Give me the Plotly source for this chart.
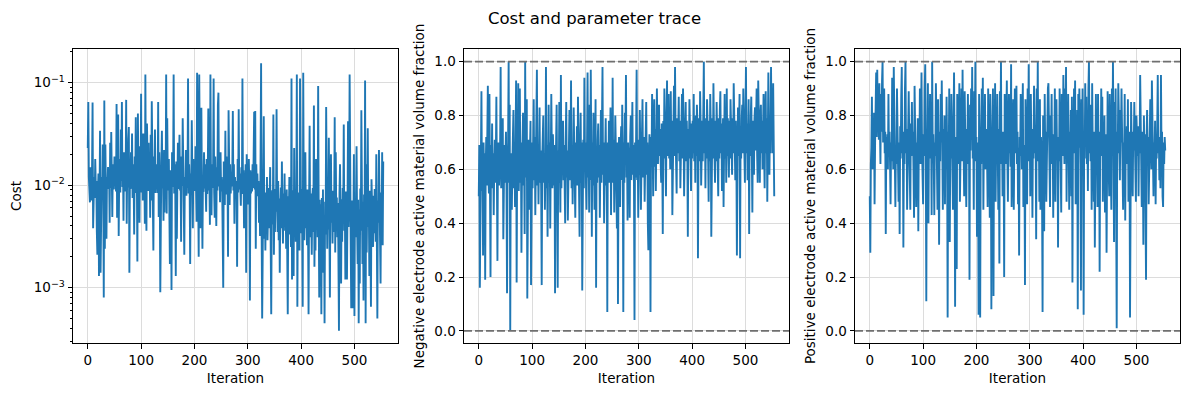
import plotly.graph_objects as go
from plotly.subplots import make_subplots

cost = [
0.023, 0.065, 0.012, 0.0093, 0.0068, 0.015, 0.0095, 0.0071, 0.014, 0.064,
0.0038, 0.0089, 0.012, 0.0075, 0.018, 0.0098, 0.011, 0.0035, 0.0021, 0.0087,
0.013, 0.0013, 0.0092, 0.034, 0.0014, 0.0098, 0.012, 0.0075, 0.025, 0.0096,
0.0008, 0.067, 0.0024, 0.025, 0.0081, 0.003, 0.012, 0.0098, 0.015, 0.0092,
0.014, 0.0043, 0.026, 0.0094, 0.033, 0.0085, 0.0049, 0.016, 0.011, 0.0091,
0.019, 0.0105, 0.014, 0.0087, 0.062, 0.0048, 0.011, 0.049, 0.0032, 0.013,
0.018, 0.0085, 0.035, 0.011, 0.065, 0.0096, 0.016, 0.0045, 0.021, 0.013,
0.0087, 0.012, 0.068, 0.0042, 0.015, 0.0095, 0.028, 0.037, 0.0014, 0.012,
0.0092, 0.021, 0.0093, 0.032, 0.0075, 0.016, 0.011, 0.0033, 0.019, 0.0091,
0.046, 0.0084, 0.013, 0.0018, 0.05, 0.0092, 0.017, 0.0043, 0.024, 0.0098,
0.078, 0.0085, 0.018, 0.0071, 0.032, 0.0094, 0.015, 0.0042, 0.12, 0.0089,
0.0036, 0.04, 0.012, 0.0088, 0.026, 0.0095, 0.015, 0.0048, 0.031, 0.0071,
0.066, 0.0092, 0.014, 0.0023, 0.019, 0.0091, 0.035, 0.0084, 0.016, 0.0097,
0.012, 0.0084, 0.065, 0.0049, 0.021, 0.0088, 0.0009, 0.0095, 0.017, 0.034,
0.0093, 0.014, 0.0045, 0.022, 0.0054, 0.015, 0.0081, 0.12, 0.0053, 0.045,
0.011, 0.0089, 0.018, 0.0085, 0.0017, 0.014, 0.0092, 0.00095, 0.021, 0.0096,
0.012, 0.12, 0.0083, 0.016, 0.0101, 0.0013, 0.017, 0.003, 0.0098, 0.026,
0.0092, 0.014, 0.031, 0.0089, 0.013, 0.0028, 0.019, 0.0098, 0.045, 0.0085,
0.015, 0.0021, 0.012, 0.0087, 0.022, 0.0079, 0.017, 0.0094, 0.11, 0.0083,
0.016, 0.0099, 0.0017, 0.013, 0.0085, 0.043, 0.0091, 0.0038, 0.018, 0.0092,
0.011, 0.0088, 0.024, 0.0095, 0.0044, 0.125, 0.0096, 0.017, 0.002, 0.12,
0.0093, 0.0038, 0.015, 0.057, 0.0091, 0.0024, 0.012, 0.0086, 0.021, 0.0093,
0.016, 0.0097, 0.0055, 0.018, 0.0082, 0.013, 0.056, 0.0089, 0.011, 0.0041,
0.12, 0.0098, 0.0051, 0.016, 0.0094, 0.014, 0.11, 0.0085, 0.0048, 0.019,
0.0093, 0.004, 0.015, 0.0089, 0.061, 0.08, 0.0097, 0.013, 0.0068, 0.021,
0.0087, 0.012, 0.0095, 0.0016, 0.001, 0.017, 0.0092, 0.0064, 0.034, 0.0081,
0.019, 0.0091, 0.013, 0.002, 0.054, 0.0095, 0.0064, 0.016, 0.0083, 0.012,
0.0097, 0.014, 0.053, 0.0089, 0.016, 0.0042, 0.012, 0.0093, 0.011, 0.0094,
0.0016, 0.018, 0.0085, 0.055, 0.0091, 0.013, 0.0096, 0.0063, 0.015, 0.0082,
0.11, 0.0099, 0.014, 0.0038, 0.011, 0.0088, 0.016, 0.0014, 0.02, 0.0096,
0.012, 0.0065, 0.018, 0.0091, 0.00075, 0.014, 0.0083, 0.011, 0.0087, 0.016,
0.0094, 0.019, 0.052, 0.0091, 0.053, 0.0024, 0.016, 0.0085, 0.013, 0.0078,
0.011, 0.0043, 0.0087, 0.0032, 0.019, 0.155, 0.0035, 0.0005, 0.0021, 0.0096,
0.047, 0.003, 0.0068, 0.0023, 0.0085, 0.0047, 0.012, 0.0029, 0.0061, 0.0094,
0.0038, 0.0072, 0.015, 0.0026, 0.00055, 0.0064, 0.0089, 0.0041, 0.049, 0.0021,
0.0078, 0.0035, 0.0092, 0.0055, 0.055, 0.0068, 0.0035, 0.011, 0.0029, 0.0074,
0.0014, 0.0062, 0.0095, 0.0038, 0.017, 0.0051, 0.0027, 0.0083, 0.0044, 0.013,
0.0036, 0.0069, 0.0024, 0.0091, 0.0031, 0.00055, 0.0078, 0.0048, 0.012, 0.0033,
0.0067, 0.0025, 0.11, 0.0012, 0.0058, 0.0089, 0.0013, 0.023, 0.0041, 0.0074,
0.0028, 0.0062, 0.12, 0.00065, 0.0085, 0.0039, 0.0071, 0.0023, 0.11, 0.0056,
0.0034, 0.0092, 0.0047, 0.00065, 0.125, 0.0081, 0.0029, 0.0065, 0.021, 0.0038,
0.0072, 0.0026, 0.0091, 0.0044, 0.00055, 0.0068, 0.038, 0.0031, 0.0083, 0.0052,
0.0021, 0.0076, 0.0094, 0.0035, 0.06, 0.0016, 0.0063, 0.0023, 0.018, 0.0048,
0.0087, 0.0031, 0.093, 0.0057, 0.0008, 0.0072, 0.0039, 0.0065, 0.00055, 0.0075,
0.0028, 0.0091, 0.0014, 0.0046, 0.00045, 0.0069, 0.0033, 0.058, 0.0052, 0.0024,
0.0081, 0.0037, 0.029, 0.0062, 0.0008, 0.0096, 0.02, 0.0043, 0.0071, 0.0027,
0.0088, 0.0035, 0.0059, 0.046, 0.0022, 0.021, 0.0048, 0.0076, 0.0031, 0.0067,
0.0019, 0.00038, 0.0085, 0.016, 0.0042, 0.0011, 0.0073, 0.0028, 0.0094, 0.0051,
0.039, 0.0036, 0.0068, 0.0012, 0.0087, 0.0025, 0.0012, 0.0061, 0.042, 0.0039,
0.0078, 0.12, 0.0045, 0.0029, 0.00063, 0.0071, 0.0034, 0.00063, 0.0092, 0.02,
0.00053, 0.0065, 0.0031, 0.0083, 0.024, 0.0044, 0.0017, 0.0072, 0.00045, 0.0058,
0.0011, 0.0093, 0.0036, 0.054, 0.0048, 0.0017, 0.0069, 0.00075, 0.0081, 0.0027,
0.105, 0.00045, 0.016, 0.0022, 0.0074, 0.036, 0.0039, 0.006, 0.0013, 0.0088,
0.0031, 0.00065, 0.0114, 0.0047, 0.0065, 0.0025, 0.0079, 0.0034, 0.0092, 0.0052,
0.0028, 0.02, 0.0037, 0.0005, 0.0071, 0.0043, 0.022, 0.0066, 0.0029, 0.0011,
0.0085, 0.0038, 0.021, 0.0026, 0.017,
]

neg_frac = [
0.5, 0.69, 0.16, 0.55, 0.67, 0.89, 0.52, 0.63, 0.28, 0.7,
0.56, 0.66, 0.19, 0.6, 0.72, 0.54, 0.68, 0.91, 0.58, 0.51,
0.88, 0.64, 0.2, 0.69, 0.56, 0.77, 0.53, 0.66, 0.43, 0.61,
0.71, 0.55, 0.64, 0.87, 0.52, 0.26, 0.66, 0.7, 0.54, 0.61,
0.68, 0.98, 0.53, 0.62, 0.7, 0.79, 0.34, 0.57, 0.69, 0.55,
0.65, 0.74, 0.54, 0.14, 0.6, 0.7, 1.0, 0.55, 0.84, 0.0,
0.66, 0.58, 0.45, 0.62, 0.71, 0.82, 0.53, 0.64, 0.46, 0.68,
0.93, 0.18, 0.66, 0.56, 0.92, 0.52, 0.67, 0.9, 0.55, 0.7,
0.29, 0.58, 0.69, 0.81, 0.54, 0.65, 0.36, 1.0, 0.57, 0.68,
0.86, 0.12, 0.63, 0.71, 0.52, 0.45, 0.67, 0.78, 0.17, 0.6,
0.7, 0.53, 0.65, 0.86, 0.56, 0.72, 0.43, 0.58, 0.68, 0.97,
0.54, 0.66, 0.47, 0.71, 0.83, 0.55, 0.67, 0.52, 0.17, 0.64,
0.7, 0.8, 0.55, 0.66, 0.45, 0.59, 0.98, 0.53, 0.69, 0.35,
0.64, 0.84, 0.55, 0.7, 0.38, 0.58, 0.88, 0.67, 0.53, 0.73,
0.66, 0.54, 0.69, 0.14, 0.57, 0.71, 0.84, 0.56, 0.16, 0.67,
0.55, 0.85, 0.68, 0.44, 0.95, 0.53, 0.7, 0.58, 0.78, 0.56,
0.69, 0.54, 0.4, 0.7, 0.85, 0.57, 0.67, 0.41, 0.55, 0.72,
0.82, 0.56, 0.66, 0.93, 0.53, 0.69, 0.47, 0.6, 0.83, 0.68,
0.55, 0.42, 0.7, 0.58, 0.76, 0.54, 0.87, 0.67, 0.56, 0.35,
0.68, 0.81, 0.55, 0.7, 0.15, 0.6, 0.71, 0.53, 0.94, 0.65,
0.7, 0.55, 0.45, 0.69, 0.96, 0.57, 0.68, 0.44, 0.84, 0.56,
0.97, 0.66, 0.35, 0.7, 0.54, 0.81, 0.67, 0.45, 0.6, 0.86,
0.16, 0.68, 0.55, 0.71, 0.77, 0.57, 0.69, 0.42, 0.64, 0.82,
0.55, 0.86, 0.98, 0.58, 0.7, 0.4, 0.56, 0.71, 0.79, 0.54,
0.68, 0.07, 0.7, 0.56, 0.78, 0.55, 0.67, 0.83, 0.43, 0.69,
0.55, 0.94, 0.58, 0.71, 0.44, 0.56, 0.8, 0.68, 0.54, 0.38,
0.7, 0.1, 0.57, 0.72, 0.55, 0.46, 0.68, 0.76, 0.56, 0.84,
0.67, 0.07, 0.7, 0.55, 0.81, 0.69, 0.95, 0.57, 0.66, 0.41,
0.7, 0.58, 0.68, 0.42, 0.72, 0.8, 0.56, 0.66, 0.85, 0.58,
0.69, 0.55, 0.04, 0.7, 0.57, 0.72, 0.97, 0.56, 0.71, 0.42,
0.68, 0.58, 0.82, 0.7, 0.45, 0.6, 0.72, 0.86, 0.57, 0.68,
0.72, 0.48, 0.6, 0.73, 0.85, 0.58, 0.7, 0.4, 0.3, 0.62,
0.73, 0.6, 0.07, 0.72, 0.63, 0.88, 0.6, 0.5, 0.74, 0.86,
0.61, 0.75, 0.52, 0.64, 0.9, 0.74, 0.62, 0.76, 0.84, 0.65,
0.75, 0.63, 0.55, 0.77, 0.66, 0.36, 0.78, 0.64, 0.9, 0.74,
0.63, 0.5, 0.77, 0.93, 0.65, 0.79, 0.88, 0.64, 0.76, 0.6,
0.89, 0.66, 0.78, 0.43, 0.63, 0.77, 0.91, 0.65, 0.98, 0.74,
0.64, 0.51, 0.79, 0.66, 0.75, 0.87, 0.63, 0.78, 0.53, 0.67,
0.77, 0.88, 0.64, 0.9, 0.76, 0.5, 0.65, 0.79, 0.85, 0.63,
0.78, 0.66, 0.35, 0.75, 0.64, 0.86, 0.79, 0.65, 0.52, 0.77,
0.64, 0.78, 0.66, 0.88, 0.63, 0.76, 0.55, 0.8, 0.65, 0.84,
0.76, 0.27, 0.66, 0.79, 0.63, 0.89, 0.77, 0.54, 0.65, 0.78,
0.63, 0.87, 1.0, 0.66, 0.79, 0.53, 0.75, 0.64, 0.86, 0.77,
0.65, 0.48, 0.78, 0.63, 0.88, 0.76, 0.35, 0.66, 0.79, 0.64,
0.92, 0.76, 0.65, 0.55, 0.78, 0.63, 0.85, 0.77, 0.66, 0.5,
0.79, 0.64, 0.82, 0.89, 0.66, 0.77, 0.52, 0.65, 0.79, 0.46,
0.76, 0.88, 0.64, 0.78, 0.55, 0.9, 0.65, 0.79, 0.66, 0.57,
0.78, 0.64, 0.86, 0.77, 0.65, 0.58, 0.79, 0.66, 0.92, 0.75,
0.64, 0.56, 0.78, 0.66, 0.28, 0.77, 0.83, 0.65, 0.79, 0.88,
0.27, 0.76, 0.64, 0.79, 0.84, 0.66, 0.9, 0.77, 0.65, 0.55,
0.79, 0.98, 0.66, 0.77, 0.56, 0.8, 0.86, 0.36, 0.76, 0.65,
0.8, 0.87, 0.66, 0.44, 0.78, 0.65, 0.58, 0.79, 0.83, 0.67,
0.78, 0.9, 0.65, 0.55, 0.93, 0.77, 0.66, 0.55, 0.8, 0.84,
0.66, 0.78, 0.6, 0.8, 0.88, 0.67, 0.53, 0.78, 0.89, 0.66,
0.79, 0.48, 0.67, 0.96, 0.77, 0.58, 0.8, 0.66, 0.98, 0.74,
0.85, 0.66, 0.92, 0.78, 0.5,
]

pos_frac = [
0.5, 0.29, 0.62, 0.68, 0.87, 0.6, 0.74, 0.66, 0.81, 0.47,
0.7, 0.78, 0.96, 0.72, 0.97, 0.78, 0.8, 0.71, 0.92, 0.76,
0.62, 0.88, 0.74, 0.93, 1.0, 0.7, 0.76, 0.9, 0.66, 0.74,
0.36, 0.72, 0.64, 0.73, 0.6, 0.88, 0.66, 0.74, 0.62, 0.47,
0.7, 0.63, 0.94, 0.72, 0.6, 0.98, 0.67, 0.75, 0.46, 0.69,
0.62, 0.9, 0.73, 0.65, 0.48, 0.7, 0.36, 0.76, 0.64, 0.87,
0.98, 0.66, 0.74, 0.31, 0.69, 0.62, 0.9, 1.0, 0.66, 0.75,
0.45, 0.7, 0.63, 0.89, 0.72, 0.61, 0.45, 0.77, 0.65, 0.85,
0.69, 0.74, 0.6, 0.42, 0.91, 0.67, 0.76, 0.46, 0.7, 0.63,
0.79, 0.37, 0.72, 0.66, 0.9, 0.62, 0.75, 0.96, 0.68, 0.6,
0.47, 0.73, 0.65, 0.9, 0.99, 0.7, 0.11, 0.74, 0.62, 0.92,
0.4, 0.71, 0.66, 0.88, 0.64, 0.76, 0.43, 1.0, 0.67, 0.73,
0.62, 0.43, 0.7, 0.65, 0.92, 0.72, 0.6, 0.45, 0.86, 0.68,
0.32, 0.74, 0.63, 0.88, 0.7, 0.93, 0.66, 0.45, 0.75, 0.62,
0.8, 0.47, 0.72, 0.65, 0.87, 0.69, 0.05, 0.74, 0.62, 0.9,
0.33, 0.7, 0.64, 0.88, 0.73, 0.6, 0.45, 0.76, 0.96, 0.67,
0.09, 0.72, 0.65, 0.23, 0.88, 0.7, 0.62, 0.75, 0.92, 0.48,
0.68, 0.74, 0.9, 0.63, 0.97, 0.7, 0.66, 0.5, 0.89, 0.72,
0.64, 0.46, 0.75, 0.68, 0.88, 0.62, 0.73, 0.19, 0.84, 0.67,
0.9, 0.71, 0.98, 0.64, 0.74, 0.45, 0.89, 0.69, 1.0, 0.63,
0.72, 0.35, 0.7, 0.66, 0.06, 0.88, 0.74, 0.05, 0.68, 0.62,
0.9, 0.7, 0.94, 0.45, 0.73, 0.66, 0.88, 0.6, 0.75, 0.68,
0.63, 0.46, 0.9, 0.71, 0.66, 0.42, 0.88, 0.74, 0.08, 0.69,
0.64, 0.9, 0.13, 0.73, 0.66, 0.92, 0.48, 0.71, 0.63, 0.88,
0.7, 0.45, 0.75, 0.25, 0.89, 0.67, 1.0, 0.62, 0.72, 0.5,
0.74, 0.66, 0.2, 0.88, 0.7, 0.62, 0.75, 0.93, 0.64, 0.48,
0.72, 0.88, 0.66, 0.73, 0.61, 0.99, 0.46, 0.7, 0.65, 0.86,
0.45, 0.73, 0.9, 0.66, 0.71, 0.91, 0.62, 0.74, 0.47, 0.68,
0.28, 0.72, 0.65, 0.88, 0.7, 0.6, 0.76, 0.92, 0.46, 0.69,
0.66, 0.17, 0.86, 0.73, 0.64, 0.47, 0.9, 0.7, 0.99, 0.63,
0.74, 0.5, 0.88, 0.68, 0.72, 0.42, 0.75, 0.64, 0.91, 0.7,
0.66, 0.73, 0.34, 0.9, 0.7, 1.0, 0.63, 0.74, 0.48, 0.86,
0.45, 0.72, 0.66, 0.52, 0.07, 0.8, 0.7, 0.37, 0.88, 0.65,
0.74, 0.48, 0.7, 0.66, 0.9, 0.92, 0.64, 0.72, 0.46, 0.8,
0.68, 0.88, 0.62, 0.73, 0.42, 0.7, 0.66, 0.9, 0.48, 0.74,
0.86, 0.67, 0.72, 0.31, 0.7, 0.63, 0.9, 0.74, 0.66, 0.44,
0.88, 0.7, 0.65, 0.95, 0.72, 0.62, 0.9, 0.68, 0.98, 0.48,
0.73, 0.66, 0.88, 0.7, 0.45, 0.74, 0.63, 0.82, 0.5, 0.87,
0.18, 0.72, 0.66, 0.9, 0.7, 0.93, 0.47, 0.74, 0.64, 0.82,
0.08, 0.88, 0.68, 0.9, 0.72, 0.62, 0.15, 0.86, 0.66, 0.9,
0.7, 0.06, 0.74, 0.64, 0.92, 0.7, 0.87, 0.62, 0.73, 0.52,
0.9, 1.0, 0.66, 0.72, 0.63, 0.84, 0.45, 0.92, 0.7, 0.65,
0.48, 0.74, 0.31, 0.7, 0.88, 0.64, 0.72, 0.46, 0.88, 0.68,
0.74, 0.22, 0.7, 0.65, 0.9, 0.72, 0.87, 0.48, 0.7, 0.64,
0.8, 0.44, 0.73, 0.66, 0.29, 0.85, 0.89, 0.7, 0.62, 0.5,
0.88, 0.7, 0.74, 0.45, 0.9, 0.66, 1.0, 0.72, 0.33, 0.85,
0.68, 0.9, 0.64, 0.01, 0.74, 0.66, 0.92, 0.7, 0.63, 0.56,
0.82, 0.7, 0.9, 0.66, 0.73, 0.45, 0.7, 0.64, 0.88, 0.41,
0.72, 0.66, 0.76, 0.62, 0.86, 0.48, 0.7, 0.74, 0.05, 0.68,
0.85, 0.7, 0.64, 0.5, 0.74, 0.67, 0.85, 0.72, 0.63, 0.48,
0.8, 0.7, 0.65, 0.76, 0.5, 0.72, 0.66, 0.95, 0.7, 0.62,
0.46, 0.74, 0.68, 0.32, 0.8, 0.66, 0.73, 0.5, 0.19, 0.7,
0.82, 0.66, 0.72, 0.47, 0.7, 0.65, 0.86, 0.72, 0.6, 0.93,
0.68, 0.74, 0.5, 0.7, 0.66, 0.78, 0.47, 0.72, 0.64, 0.76,
0.95, 0.66, 0.72, 0.56, 0.7, 0.53, 0.95, 0.68, 0.74, 0.5,
0.46, 0.7, 0.62, 0.72, 0.67,
]

iterations = list(range(len(cost)))
bounds = [0.0, 1.0]
x_ticks = [0, 100, 200, 300, 400, 500]
log_ticks = [1e-3, 1e-2, 1e-1]
log_tick_text = ["10<sup>\u22123</sup>", "10<sup>\u22122</sup>", "10<sup>\u22121</sup>"]
y_ticks = [0.0, 0.2, 0.4, 0.6, 0.8, 1.0]
y_tick_text = ["0.0", "0.2", "0.4", "0.6", "0.8", "1.0"]

W, H = 1189, 396
FONT = "DejaVu Sans"
BLUE = "#1f77b4"

fig = make_subplots(rows=1, cols=3)

series = [cost, neg_frac, pos_frac]
for i, s in enumerate(series):
    fig.add_trace(go.Scatter(x=iterations, y=s, mode="lines",
                             line=dict(color=BLUE, width=1.9),
                             showlegend=False, hoverinfo="skip"),
                  row=1, col=i + 1)

for col in (2, 3):
    for b in bounds:
        fig.add_hline(y=b, line=dict(color="#6f6f6f", width=1.8, dash="8px,3px"),
                      row=1, col=col)

px_x = [(73, 398), (464, 789), (855, 1180)]
y_top, y_bot = 49, 343
ydom = [(H - y_bot) / H, (H - y_top) / H]

axis_common = dict(showline=True, mirror=True, linecolor="black", linewidth=1,
                   ticks="outside", ticklen=4.5, tickwidth=1, tickcolor="black",
                   showgrid=True, gridcolor="#dcdcdc", gridwidth=1, zeroline=False,
                   automargin=False,
                   tickfont=dict(family=FONT, size=13.5, color="black"))

titles_y = ["Cost", "Negative electrode active material volume fraction",
            "Positive electrode active material volume fraction"]

minor_vals = []
for d in [1e-4, 1e-3, 1e-2, 1e-1]:
    for k in range(2, 10):
        minor_vals.append(k * d)

for i in range(3):
    xa = "xaxis" if i == 0 else f"xaxis{i+1}"
    ya = "yaxis" if i == 0 else f"yaxis{i+1}"
    x0, x1 = px_x[i]
    fig.layout[xa].update(domain=[x0 / W, x1 / W], range=[-27.7, 581.7],
                          tickvals=x_ticks,
                          title=dict(text="Iteration", standoff=6,
                                     font=dict(family=FONT, size=13.5, color="black")),
                          **axis_common)
    if i == 0:
        fig.layout[ya].update(domain=ydom, type="log", range=[-3.54, -0.671],
                              tickvals=log_ticks, ticktext=log_tick_text,
                              minor=dict(tickvals=minor_vals, ticks="outside", ticklen=2.5,
                                         tickcolor="black", showgrid=False),
                              title=dict(text=titles_y[i], standoff=8,
                                         font=dict(family=FONT, size=13.5, color="black")),
                              **axis_common)
    else:
        fig.layout[ya].update(domain=ydom, range=[-0.045, 1.047],
                              tickvals=y_ticks, ticktext=y_tick_text,
                              title=dict(text=titles_y[i], standoff=6,
                                         font=dict(family=FONT, size=13.5, color="black")),
                              **axis_common)

fig.update_layout(
    width=W, height=H,
    margin=dict(l=0, r=0, t=0, b=0),
    paper_bgcolor="white", plot_bgcolor="white",
    font=dict(family=FONT, color="black"),
    title=dict(text="Cost and parameter trace", x=0.5, xanchor="center",
               y=1 - 18 / H, yanchor="middle",
               font=dict(family=FONT, size=16.5, color="black")),
)

fig.write_html("out.html", config={"displayModeBar": False},
               post_script="document.body.style.margin='0';")
